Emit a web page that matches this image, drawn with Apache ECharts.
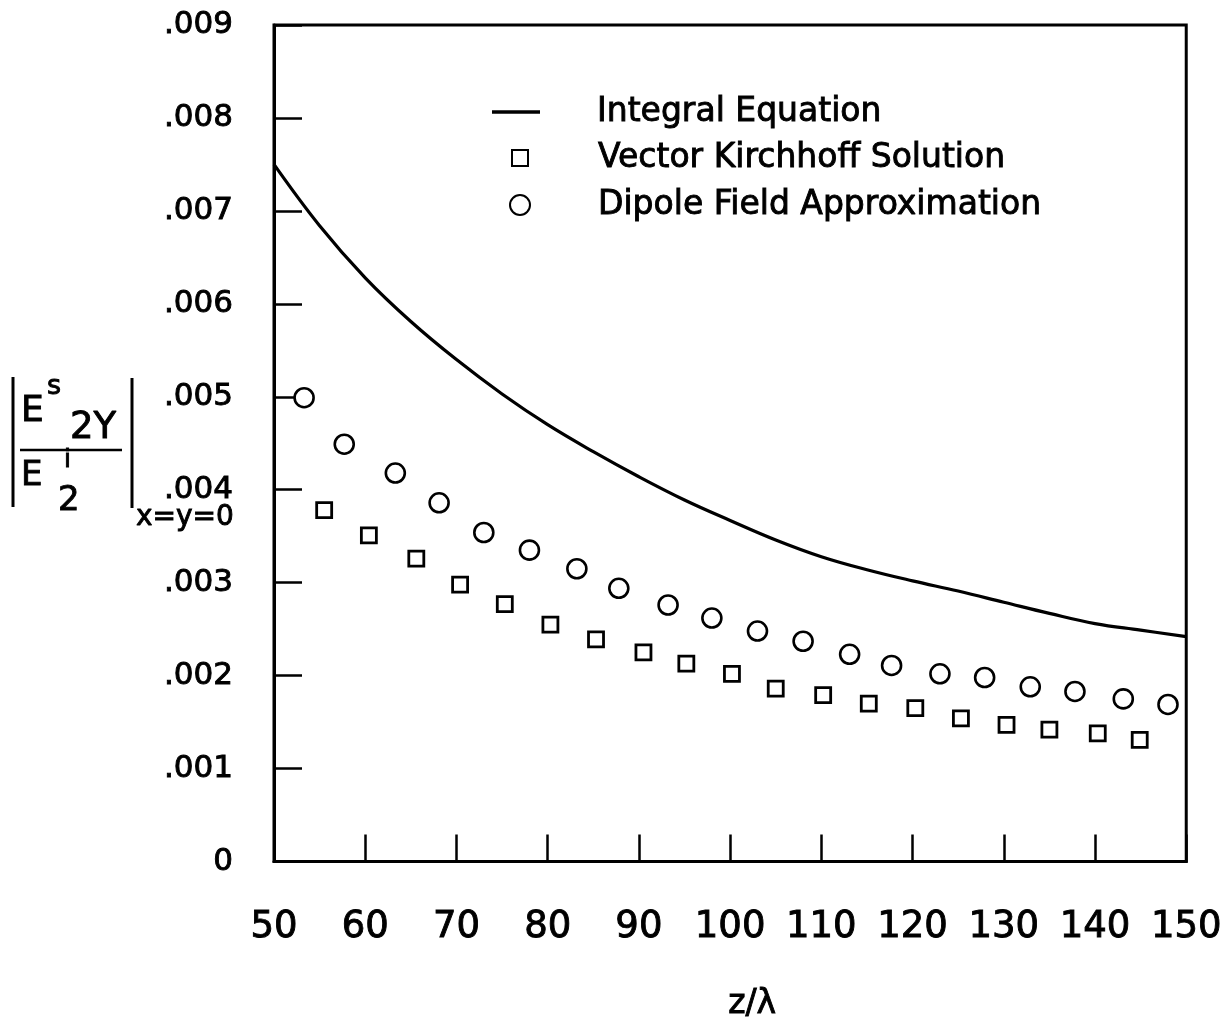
<!DOCTYPE html>
<html>
<head>
<meta charset="utf-8">
<script src="https://cdn.jsdelivr.net/npm/echarts@6/dist/echarts.min.js"></script>
<style>
  html, body { margin: 0; padding: 0; background: #fff; }
  #chart { width: 1225px; height: 1026px; }
</style>
</head>
<body>
<div id="chart"></div>
<script>
// Scattered field |E^s_2Y / E^i_2| on axis versus distance z/λ
const seriesNames = ['Integral Equation', 'Vector Kirchhoff Solution', 'Dipole Field Approximation'];

// Integral equation solution (solid curve)
const integralZ = [50, 55, 60, 65, 70, 75, 80, 85, 90, 95, 100, 105, 110, 115, 120, 125, 130, 135, 140, 145, 150];
const integralE = [0.00750, 0.00684, 0.00628, 0.00581, 0.00540, 0.00503, 0.00470, 0.00441, 0.00414, 0.00389, 0.00367,
                   0.00346, 0.00328, 0.00314, 0.00302, 0.00291, 0.00279, 0.00267, 0.00256, 0.00249, 0.00242];

// Vector Kirchhoff solution (squares)
const kirchhoffZ = [55.5, 60.4, 65.6, 70.4, 75.3, 80.3, 85.3, 90.5, 95.2, 100.2, 105.0, 110.2, 115.2, 120.3, 125.3, 130.3, 135.0, 140.3, 144.9];
const kirchhoffE = [0.00378, 0.00351, 0.00326, 0.00298, 0.00277, 0.00255, 0.00239, 0.00225, 0.00213, 0.00202, 0.00186,
                    0.00179, 0.00170, 0.00165, 0.00154, 0.00147, 0.00142, 0.00138, 0.00131];

// Dipole field approximation (circles)
const dipoleZ = [53.3, 57.7, 63.3, 68.1, 73.0, 78.0, 83.2, 87.8, 93.2, 98.0, 103.0, 108.0, 113.1, 117.7, 123.0, 127.9, 132.9, 137.8, 143.1, 148.0];
const dipoleE = [0.00499, 0.00449, 0.00418, 0.00386, 0.00354, 0.00335, 0.00315, 0.00294, 0.00276, 0.00262, 0.00248,
                 0.00237, 0.00223, 0.00211, 0.00202, 0.00198, 0.00188, 0.00183, 0.00175, 0.00169];

// Axis ranges and tick labels
const xMin = 50, xMax = 150, xStep = 10;
const yMin = 0, yMax = 0.009, yStep = 0.001;
const yTickLabels = ['0', '.001', '.002', '.003', '.004', '.005', '.006', '.007', '.008', '.009'];

const FONT = '"DejaVu Sans", sans-serif';
const INK = '#000';
// lettering is drawn with a thin outline to give the pen-stroke weight
const inked = { color: INK, fontFamily: FONT, textBorderColor: INK, textBorderWidth: 0.9 };
const pairs = (xs, ys) => xs.map((x, i) => [x, ys[i]]);

const chart = echarts.init(document.getElementById('chart'), null, { renderer: 'canvas' });

function legendRow(name, icon, left, centerY, iconW, iconH, gap) {
  return {
    orient: 'vertical', selectedMode: false, padding: 0,
    left: left, top: centerY - 20,
    itemWidth: iconW, itemHeight: iconH,
    data: [icon ? { name: name, icon: icon } : name],
    textStyle: Object.assign({}, inked, { fontSize: 33, lineHeight: 40, padding: [0, 0, 0, gap] })
  };
}

function titleText(text, x, y, size) {
  return {
    type: 'text', x: x, y: y,
    style: {
      text: text, fontFamily: FONT, fontSize: size, fill: INK,
      stroke: INK, lineWidth: 0.9, textVerticalAlign: 'bottom'
    }
  };
}

chart.setOption({
  animation: false,
  backgroundColor: '#fff',
  grid: {
    left: 274, right: 30, top: 25, bottom: 161,
    show: true, borderColor: INK, borderWidth: 3, backgroundColor: 'transparent'
  },
  legend: [
    legendRow(seriesNames[0], 'rect', 492, 112, 48, 3.5, 52),
    legendRow(seriesNames[1], null, 511, 158, 16, 16, 65),
    legendRow(seriesNames[2], null, 509, 205, 20, 20, 63)
  ],
  xAxis: {
    type: 'value', min: xMin, max: xMax, interval: xStep,
    name: 'z/λ', nameLocation: 'middle', nameGap: 126,
    nameTextStyle: Object.assign({}, inked, { fontSize: 33, padding: [0, 0, 0, 44] }),
    axisLine: { show: true, lineStyle: { color: INK, width: 3 } },
    axisTick: { show: true, inside: true, length: 27, lineStyle: { color: INK, width: 2.5 } },
    axisLabel: Object.assign({}, inked, { fontSize: 37, margin: 47 }),
    splitLine: { show: false }
  },
  yAxis: {
    type: 'value', min: yMin, max: yMax, interval: yStep,
    axisLine: { show: true, lineStyle: { color: INK, width: 3 } },
    axisTick: { show: true, inside: true, length: 28, lineStyle: { color: INK, width: 2.5 } },
    axisLabel: Object.assign({}, inked, {
      fontSize: 31, margin: 41,
      formatter: (v) => yTickLabels[Math.round(v / yStep)]
    }),
    splitLine: { show: false }
  },
  series: [
    {
      name: seriesNames[0], type: 'line', data: pairs(integralZ, integralE),
      smooth: 0.4, symbol: 'none',
      lineStyle: { color: INK, width: 3.2 }, itemStyle: { color: INK }, z: 2
    },
    {
      name: seriesNames[1], type: 'scatter', data: pairs(kirchhoffZ, kirchhoffE),
      symbol: 'rect', symbolSize: 15,
      itemStyle: { color: '#fff', borderColor: INK, borderWidth: 2.8, opacity: 1 }, z: 3
    },
    {
      name: seriesNames[2], type: 'scatter', data: pairs(dipoleZ, dipoleE),
      symbol: 'circle', symbolSize: 19,
      itemStyle: { color: '#fff', borderColor: INK, borderWidth: 2.6, opacity: 1 }, z: 3
    }
  ],
  graphic: [
    // y-axis quantity: | E^s_2Y / E^i_2 | evaluated at x=y=0
    { type: 'line', shape: { x1: 13, y1: 377, x2: 13, y2: 507 }, style: { stroke: INK, lineWidth: 3 } },
    { type: 'line', shape: { x1: 132, y1: 378, x2: 132, y2: 508 }, style: { stroke: INK, lineWidth: 3 } },
    { type: 'line', shape: { x1: 20, y1: 450, x2: 122, y2: 450 }, style: { stroke: INK, lineWidth: 2.5 } },
    titleText('E', 21, 430, 36),
    titleText('s', 47, 400, 27),
    titleText('2Y', 70, 447, 37),
    titleText('E', 21, 493, 34),
    titleText('i', 64, 473, 25),
    titleText('2', 58, 518, 34),
    titleText('x=y=0', 136, 532, 28)
  ]
});
</script>
</body>
</html>
